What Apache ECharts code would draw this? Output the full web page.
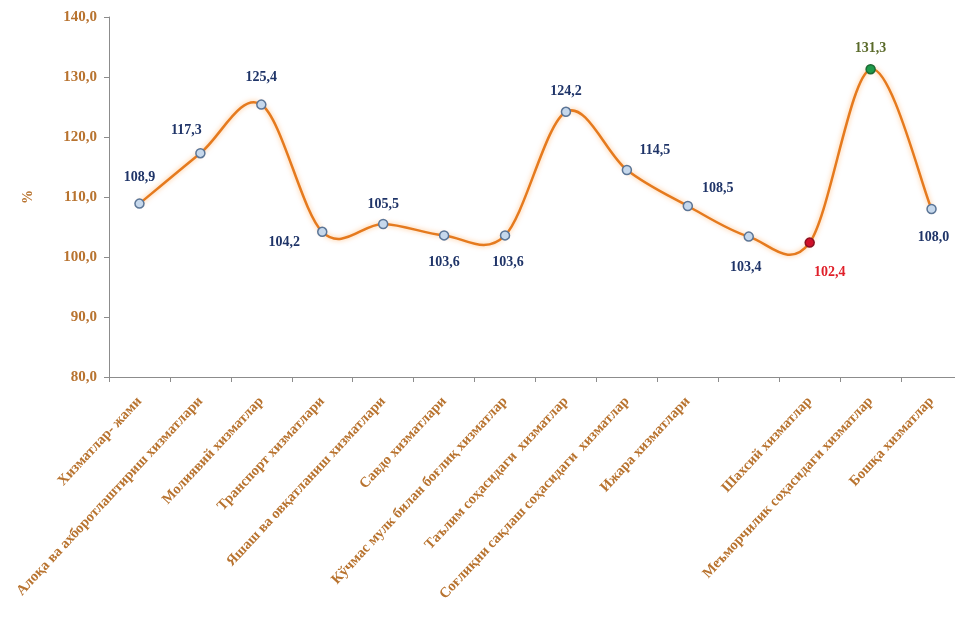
<!DOCTYPE html>
<html><head><meta charset="utf-8">
<script src="https://cdn.jsdelivr.net/npm/echarts@6/dist/echarts.min.js"></script>
<style>html,body{margin:0;padding:0;background:#fff;overflow:hidden;width:955px;height:626px}#c{width:975px;height:626px}</style>
</head><body><div id="c"></div>
<script>
const categories = [
  "Хизматлар- жами",
  "Алоқа ва ахборотлаштириш хизматлари",
  "Молиявий хизматлар",
  "Транспорт хизматлари",
  "Яшаш ва овқатланиш хизматлари",
  "Савдо хизматлари",
  "Кўчмас мулк билан боғлиқ хизматлар",
  "Таълим соҳасидаги  хизматлар",
  "Соғлиқни сақлаш соҳасидаги  хизматлар",
  "Ижара хизматлари",
  "",
  "Шахсий хизматлар",
  "Меъморчилик соҳасидаги хизматлар",
  "Бошқа хизматлар"
];
const values = [108.9, 117.3, 125.4, 104.2, 105.5, 103.6, 103.6, 124.2, 114.5, 108.5, 103.4, 102.4, 131.3, 108.0];
const yTicks = [80, 90, 100, 110, 120, 130, 140];

// label offsets relative to the marker (style only)
const labelOffsets = [[0,-26],[-14,-23],[0,-27],[-38,11],[0,-20],[0,27],[3,27],[0,-20],[28,-20],[30,-18],[-3,31],[20,30],[0,-21],[2,28]];
const minIdx = values.indexOf(Math.min(...values));
const maxIdx = values.indexOf(Math.max(...values));

const fmt = v => v.toFixed(1).replace('.', ',');
const orange = '#B8732F';
const serif = '"Liberation Serif", "DejaVu Serif", serif';

const data = values.map((v, i) => {
  const d = { value: v, label: { offset: labelOffsets[i] } };
  if (i === minIdx) {
    d.itemStyle = { color: '#D0102A', borderColor: '#8A1020' };
    d.label.color = '#E0202A';
  } else if (i === maxIdx) {
    d.itemStyle = { color: '#1E9A4A', borderColor: '#1B6B35' };
    d.label.color = '#5A6A2A';
  }
  return d;
});

// Smooth curve (Catmull-Rom style, as in spreadsheet smoothed lines)
function renderCurve(params, api) {
  if (params.dataIndex !== 0) return { type: 'group', children: [] };
  const pts = values.map((v, i) => api.coord([i, v]));
  const n = pts.length;
  const children = [];
  for (let i = 0; i < n - 1; i++) {
    const p0 = pts[Math.max(i - 1, 0)], p1 = pts[i], p2 = pts[i + 1], p3 = pts[Math.min(i + 2, n - 1)];
    const k = 1 / 6;
    children.push({
      type: 'bezierCurve',
      shape: {
        x1: p1[0], y1: p1[1], x2: p2[0], y2: p2[1],
        cpx1: p1[0] + (p2[0] - p0[0]) * k, cpy1: p1[1] + (p2[1] - p0[1]) * k,
        cpx2: p2[0] - (p3[0] - p1[0]) * k, cpy2: p2[1] - (p3[1] - p1[1]) * k
      },
      style: { fill: null, stroke: '#E57A1E', lineWidth: 2.5, shadowBlur: 5, shadowColor: 'rgba(255,170,90,0.75)' }
    });
  }
  return { type: 'group', children };
}

const chart = echarts.init(document.getElementById('c'), null, { renderer: 'canvas' });
chart.setOption({
  animation: false,
  grid: { left: 109, top: 17, width: 853, height: 360 },
  xAxis: {
    type: 'category',
    data: categories,
    boundaryGap: true,
    axisLine: { lineStyle: { color: '#8C8C8C', width: 1 } },
    axisTick: { show: true, length: 5, lineStyle: { color: '#8C8C8C' } },
    axisLabel: {
      rotate: 47, interval: 0, margin: 22,
      fontFamily: serif, fontWeight: 'bold', fontSize: 14.5, color: orange
    }
  },
  yAxis: {
    type: 'value',
    min: yTicks[0], max: yTicks[yTicks.length - 1], interval: 10,
    name: '%', nameLocation: 'middle', nameGap: 74, nameRotate: 90,
    nameTextStyle: { fontFamily: serif, fontWeight: 'bold', fontSize: 14, color: orange },
    splitLine: { show: false },
    axisLine: { show: true, lineStyle: { color: '#8C8C8C', width: 1 } },
    axisTick: { show: true, length: 5, lineStyle: { color: '#8C8C8C' } },
    axisLabel: {
      margin: 12, formatter: v => fmt(v),
      fontFamily: serif, fontWeight: 'bold', fontSize: 15, color: orange
    }
  },
  series: [{
    type: 'custom',
    z: 1,
    renderItem: renderCurve,
    data: values.map((v, i) => [i, v]),
    encode: { x: 0, y: 1 },
    silent: true
  }, {
    type: 'line',
    z: 3,
    data: data,
    symbol: 'circle',
    symbolSize: 9,
    lineStyle: { width: 0, opacity: 0 },
    itemStyle: { color: '#C6D8EC', borderColor: '#5B7596', borderWidth: 1.5 },
    label: {
      show: true, position: 'inside',
      formatter: p => fmt(p.value),
      fontFamily: serif, fontWeight: 'bold', fontSize: 14, color: '#1F3468'
    }
  }]
});
</script></body></html>
